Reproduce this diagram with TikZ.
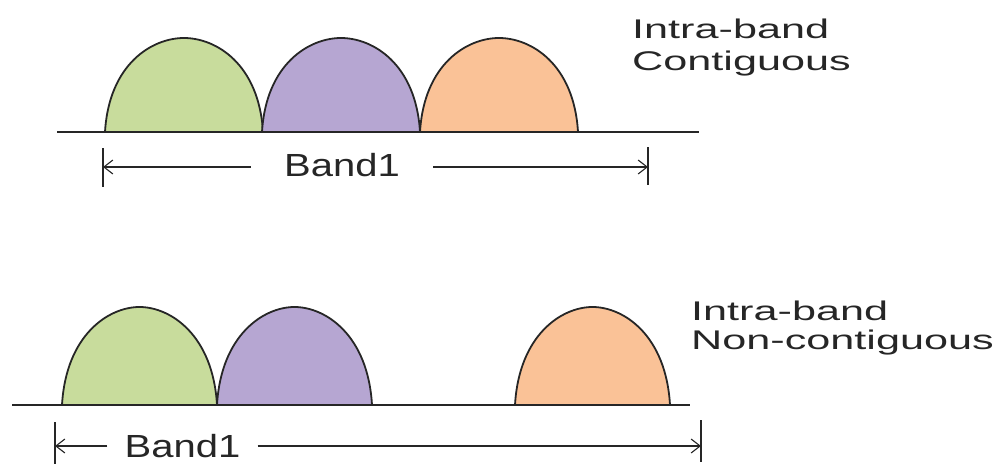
\documentclass[tikz,border=0pt]{standalone}
\usepackage{fontspec}
\setmainfont{Liberation Sans}
\usepackage{graphicx}
\usetikzlibrary{arrows.meta, positioning}
\definecolor{lobegreen}{HTML}{C8DC9C}
\definecolor{lobepurple}{HTML}{B6A6D2}
\definecolor{lobeorange}{HTML}{FAC297}
\definecolor{inkgray}{HTML}{262626}
\newcommand{\widetxt}[2][1.6]{\scalebox{#1}[1]{#2}}
\tikzset{
    spectrum/.style={x=1pt, y=1pt},
    carrier lobe/.style={draw=inkgray, line width=1.8pt},
    axis line/.style={draw=inkgray, line width=2.4pt},
    band edge/.style={draw=inkgray, line width=2pt},
    band arrow/.style={-{Straight Barb[length=9pt, width=14pt]}, draw=inkgray, line width=1.1pt},
    band label/.style={font=\fontsize{32}{36}\selectfont, text=inkgray, inner ysep=0pt},
    case label/.style={font=\fontsize{27}{31}\selectfont, text=inkgray, inner sep=0pt, anchor=base west},
}

\begin{document}
\begin{tikzpicture}[spectrum]
    \useasboundingbox (0,0) rectangle (1002,467);

    % Intra-band contiguous
    \foreach \x/\c in {105/lobegreen, 262/lobepurple, 420/lobeorange}
        \filldraw[carrier lobe, fill=\c] (\x,335) .. controls +(4,68) and +(-32,0) .. ++(79,94)
            .. controls +(32,0) and +(-4,68) .. ++(79,-94);
    \coordinate (topaxisL) at (57,335);
    \coordinate (topaxisR) at (699,335);
    \draw[axis line] (topaxisL) -- (topaxisR);

    \coordinate (topedgeL) at (103,300);
    \coordinate (topedgeR) at (648,300);
    \draw[band edge] ([yshift=19pt]topedgeL) -- ([yshift=-20pt]topedgeL);
    \draw[band edge] ([yshift=20pt]topedgeR) -- ([yshift=-18pt]topedgeR);
    \node[band label, inner xsep=33pt] (topband) at (342,302) {\widetxt[1.25]{Band1}};
    \draw[band arrow] (topband.west |- topedgeL) -- (topedgeL);
    \draw[band arrow] (topband.east |- topedgeR) -- (topedgeR);

    \node[case label] (contigA) at (632,428) {\widetxt{Intra-band}};
    \node[case label] (contigB) at (632,396) {\widetxt{Contiguous}};

    % Intra-band non-contiguous
    \foreach \x/\c in {62/lobegreen, 217/lobepurple, 515/lobeorange}
        \filldraw[carrier lobe, fill=\c] (\x,62) .. controls +(4,70) and +(-31,0) .. ++(77.5,98)
            .. controls +(31,0) and +(-4,70) .. ++(77.5,-98);
    \coordinate (botaxisL) at (12,62);
    \coordinate (botaxisR) at (690,62);
    \draw[axis line] (botaxisL) -- (botaxisR);

    \coordinate (botedgeL) at (55,21);
    \coordinate (botedgeR) at (701,21);
    \draw[band edge] ([yshift=24pt]botedgeL) -- ([yshift=-18pt]botedgeL);
    \draw[band edge] ([yshift=26pt]botedgeR) -- ([yshift=-16pt]botedgeR);
    \node[band label, inner xsep=17pt] (botband) at (182.5,21) {\widetxt[1.25]{Band1}};
    \draw[band arrow] (botband.west |- botedgeL) -- (botedgeL);
    \draw[band arrow] (botband.east |- botedgeR) -- (botedgeR);

    \node[case label] (noncontigA) at (691,147) {\widetxt{Intra-band}};
    \node[case label] (noncontigB) at (691,118) {\widetxt{Non-contiguous}};
\end{tikzpicture}
\end{document}
